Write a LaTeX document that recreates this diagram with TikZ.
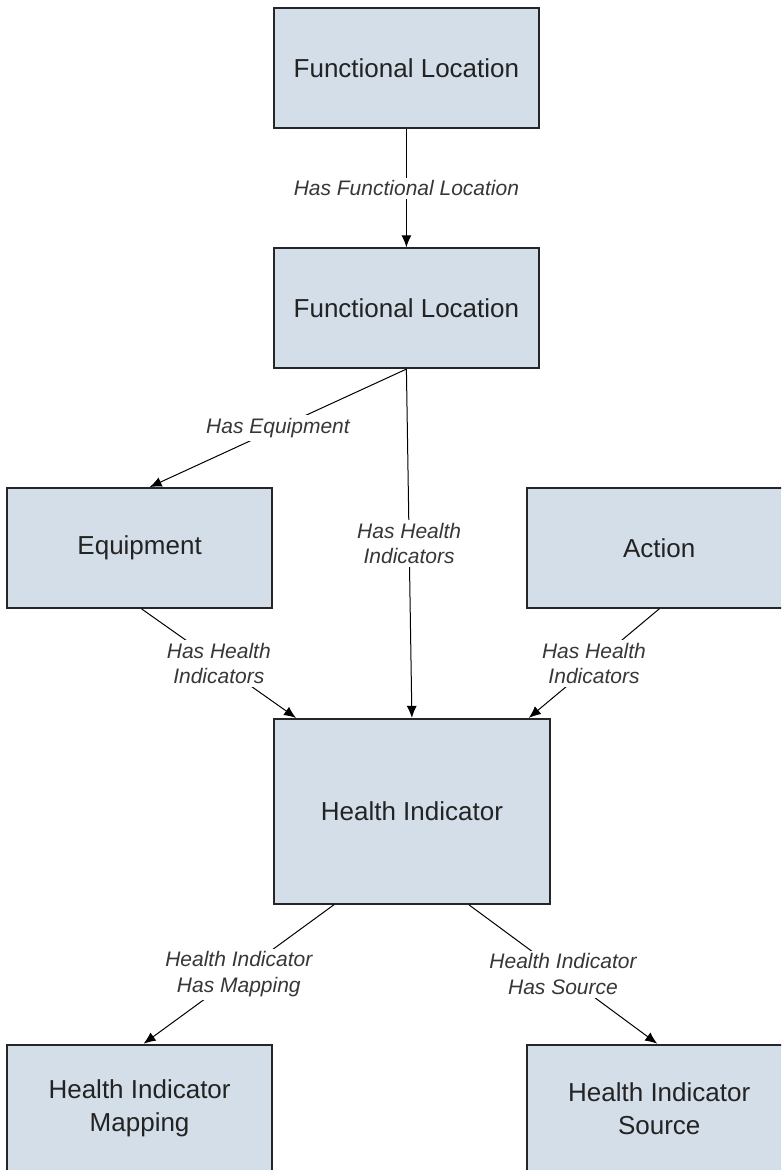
\documentclass[tikz,border=0pt]{standalone}
\usepackage{fontspec}
\setmainfont{Liberation Sans}
\usetikzlibrary{arrows.meta,positioning}
\definecolor{entfill}{RGB}{211,222,232}
\definecolor{enttext}{RGB}{35,35,35}
\definecolor{reltext}{RGB}{55,55,55}

\begin{document}
\begin{tikzpicture}[
  x=0.5pt,y=-0.5pt,
  ent/.style={draw=black!85,line width=0.9pt,fill=entfill,minimum width=132.5pt,minimum height=60pt,
    inner sep=0pt,align=center,text=enttext,font=\fontsize{13}{16.5}\selectfont},
  rel/.style={-{Latex[length=6pt,width=5pt]},line width=0.5pt,black},
  lbl/.style={fill=white,inner sep=1.5pt,align=center,text=reltext,font=\fontsize{10.5}{12.8}\selectfont\itshape},
]
  \clip (0,0) rectangle (781,1170);

  \node[ent,anchor=north west] (FL1) at (273,7.5) {Functional Location};
  \node[ent,below=59pt of FL1] (FL2) {Functional Location};
  \node[ent,below left=59pt and 0pt of FL2] (Eq) {Equipment};
  \node[ent,below right=59pt and -7pt of FL2] (Act) {Action};
  \node[ent,minimum width=138pt,minimum height=92.5pt,below right=54.5pt and 0pt of Eq] (HI) {Health Indicator};
  \node[ent,minimum height=64pt,below left=69.5pt and 0pt of HI] (HIM) {Health Indicator\\Mapping};
  \node[ent,minimum height=64pt,below right=69.5pt and -12.5pt of HI] (HIS) {Health Indicator\\Source};

  % top chain
  \draw[rel] (FL1.south) -- node[lbl]{Has Functional Location} (FL2.north);
  \draw[rel] (FL2.south) -- node[lbl]{Has Equipment} ([xshift=5pt]Eq.north);
  \draw[rel] (FL2.south) -- node[lbl]{Has Health\\Indicators} (HI.north);

  % into Health Indicator
  \draw[rel] ([xshift=1pt]Eq.south) -- node[lbl]{Has Health\\Indicators} ([xshift=11.5pt]HI.north west);
  \draw[rel] (Act.south) -- node[lbl]{Has Health\\Indicators} ([xshift=-11pt]HI.north east);

  % out of Health Indicator
  \draw[rel] ([xshift=30.5pt]HI.south west) -- node[lbl]{Health Indicator\\Has Mapping} ([xshift=2pt]HIM.north);
  \draw[rel] ([xshift=-41pt]HI.south east) -- node[lbl]{Health Indicator\\Has Source} ([xshift=-1pt]HIS.north);
\end{tikzpicture}
\end{document}
